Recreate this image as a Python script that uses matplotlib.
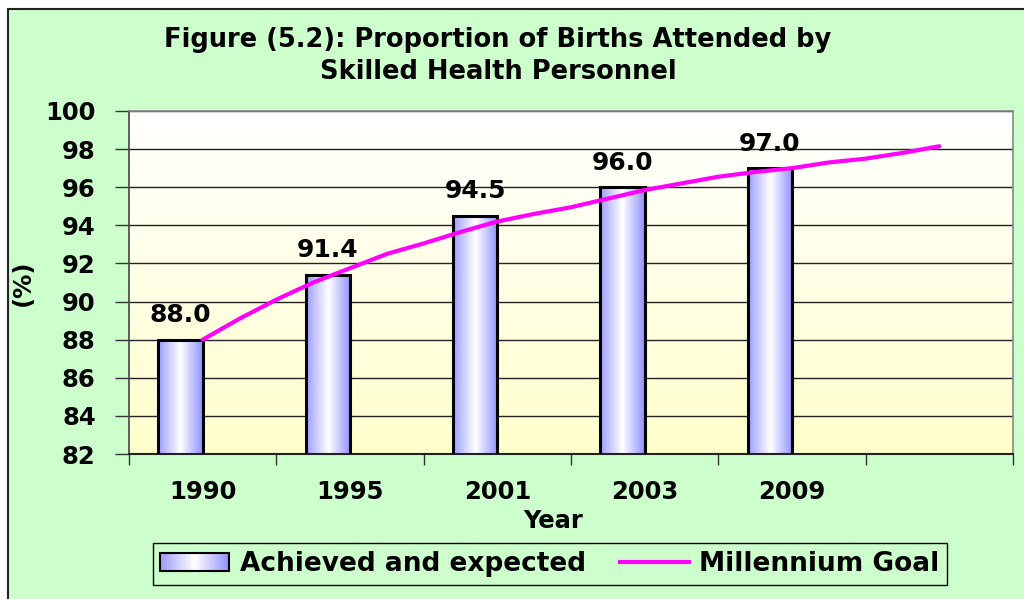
import numpy as np
import matplotlib
matplotlib.use("Agg")
import matplotlib.pyplot as plt
from matplotlib.patches import Rectangle
from matplotlib.lines import Line2D
from matplotlib.legend_handler import HandlerBase
from matplotlib.colors import LinearSegmentedColormap

# ---- data ----
years = ["1990", "1995", "2001", "2003", "2009", ""]
achieved = [88.0, 91.4, 94.5, 96.0, 97.0]
goal_pos = [0, 0.25, 0.5, 0.75, 1.0, 1.25, 1.5, 1.75, 2.0, 2.25, 2.5, 2.75,
            3.0, 3.25, 3.5, 3.75, 4.0, 4.25, 4.5, 4.75, 5.0]
goal_vals = [88.0, 89.1, 90.1, 91.0, 91.75, 92.5, 93.05, 93.65, 94.2, 94.6, 94.95, 95.4,
             95.85, 96.2, 96.55, 96.8, 97.0, 97.3, 97.5, 97.8, 98.15]
title = "Figure (5.2): Proportion of Births Attended by\nSkilled Health Personnel"

BG = "#CCFFCC"
NUM_FONT = "DejaVu Sans"

bar_cmap = LinearSegmentedColormap.from_list(
    "bar", [(0, "#9C9CFF"), (0.5, "#FFFFFF"), (1, "#9090FF")])
bg_cmap = LinearSegmentedColormap.from_list("bgc", [(0, "#FFFFFF"), (1, "#FFFFCC")])

fig = plt.figure(figsize=(10.24, 5.99), dpi=100)
fig.patch.set_facecolor("white")
fig.patches.append(Rectangle((8/1024, -0.1), 1.2, 1 - 9/599 + 0.1,
                             transform=fig.transFigure, facecolor=BG,
                             edgecolor="#222222", lw=1.5, zorder=-10))

ax = fig.add_axes([129/1024, 1 - 454/599, (1013 - 129)/1024, (454 - 111)/599])
ax.set_xlim(-0.5, 5.5)
ax.set_ylim(82, 100)

# plot-area gradient background (white top -> pale yellow bottom)
grad = np.linspace(0, 1, 256).reshape(-1, 1)
ax.imshow(grad, cmap=bg_cmap, aspect="auto", extent=[0, 1, 0, 1], origin="upper",
          transform=ax.transAxes, zorder=0)
ax.set_facecolor("white")

# grid
ax.set_yticks(np.arange(82, 101, 2))
ax.yaxis.grid(True, color="#222222", lw=1.0, zorder=1)
ax.set_axisbelow(True)

# bars (left half of each category)
x = np.arange(len(achieved))
bars = ax.bar(x - 0.15, achieved, width=0.3, bottom=0, color="none",
              edgecolor="black", lw=2.2, zorder=3)
hgrad = np.linspace(0, 1, 256).reshape(1, -1)
for b in bars:
    x0, w, h = b.get_x(), b.get_width(), b.get_height()
    im = ax.imshow(hgrad, cmap=bar_cmap, aspect="auto",
                   extent=[x0, x0 + w, 82, h], zorder=2)
    im.set_clip_path(b)

for xi, v in zip(x, achieved):
    ax.annotate(f"{v:.1f}", (xi - 0.15, v), xytext=(0, 9), textcoords="offset points",
                ha="center", va="bottom", fontsize=18, fontweight="bold",
                family=NUM_FONT, zorder=5)

# goal line
ax.plot(goal_pos, goal_vals, color="#FF00FF", lw=3, zorder=4, solid_capstyle="round")

# axes styling
ax.set_xticks(np.arange(-0.5, 5.6, 1), minor=False)
ax.set_xticklabels([])
ax.set_xticks(np.arange(0, 6), minor=True)
ax.set_xticklabels(years, minor=True, fontsize=17.5, fontweight="bold", family=NUM_FONT)
ax.tick_params(axis="x", which="major", length=8, width=1, color="#333333", direction="out")
ax.tick_params(axis="x", which="minor", length=0, pad=19)
ax.tick_params(axis="y", length=10, width=1, color="#333333", direction="out", pad=14)
for lab in ax.get_yticklabels():
    lab.set_fontsize(17.5); lab.set_fontweight("bold"); lab.set_family(NUM_FONT)
for s in ["top", "right"]:
    ax.spines[s].set_color("#888888"); ax.spines[s].set_lw(1.2)
ax.spines["left"].set_color("#444444"); ax.spines["left"].set_lw(1.2)
ax.spines["bottom"].set_color("#222222"); ax.spines["bottom"].set_lw(1.5)

ax.set_xlabel("Year", fontsize=17.5, fontweight="bold", family=NUM_FONT)
ax.xaxis.set_label_coords((553 - 129) / 884, -(509 - 454) / 343)
ax.set_ylabel("(%)", fontsize=17.5, fontweight="bold", family=NUM_FONT)
ax.yaxis.set_label_coords(-(129 - 35) / 884, 0.5)

fig.text(498/1024, 1 - 56/599, title, ha="center", va="center", fontsize=18.5,
         fontweight="bold", family=NUM_FONT, linespacing=1.3)

# legend
class GradHandler(HandlerBase):
    def create_artists(self, legend, orig_handle, xdescent, ydescent, width, height, fontsize, trans):
        arts = []
        n = 40
        for i in range(n):
            c = bar_cmap((i + 0.5) / n)
            arts.append(Rectangle((-xdescent + width * i / n, -ydescent), width / n + 0.3, height,
                                  facecolor=c, edgecolor="none", transform=trans))
        arts.append(Rectangle((-xdescent, -ydescent), width, height, facecolor="none",
                              edgecolor="black", lw=1.5, transform=trans))
        return arts

bar_handle = Rectangle((0, 0), 1, 1)
line_handle = Line2D([0], [0], color="#FF00FF", lw=3)
leg = fig.legend([bar_handle, line_handle], ["Achieved and expected", "Millennium Goal"],
                 handler_map={Rectangle: GradHandler()}, loc="center",
                 bbox_to_anchor=(550/1024, 1 - 564/599), ncol=2, frameon=True,
                 fancybox=False, facecolor=BG, edgecolor="black", framealpha=1,
                 prop={"family": NUM_FONT, "weight": "bold", "size": 19},
                 handlelength=2.6, handleheight=0.65, columnspacing=1.3, handletextpad=0.4,
                 borderpad=0.3, borderaxespad=0)
leg.get_frame().set_linewidth(1.0)

fig.savefig("out.png", dpi=100, facecolor=fig.get_facecolor())
